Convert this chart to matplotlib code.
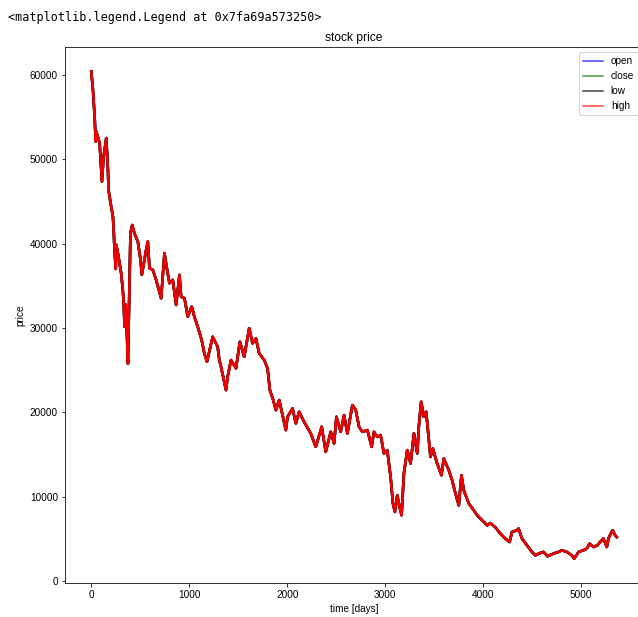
import matplotlib
matplotlib.use("Agg")
import matplotlib.pyplot as plt

plt.rcParams["font.family"] = ["Liberation Sans", "DejaVu Sans"]
plt.rcParams["font.size"] = 10

# values (day index, price)
days = [0, 17, 34, 45, 51, 85, 100, 109, 125, 153, 170, 176, 197, 221, 231, 237,
        250, 255, 278, 305, 322, 333, 339, 349, 362, 374, 400, 418, 440, 475,
        503, 516, 560, 577, 594, 628, 662, 713, 747, 774, 798, 832, 866, 900,
        917, 951, 985, 1025, 1052, 1086, 1127, 1154, 1181, 1239, 1273, 1290,
        1307, 1324, 1375, 1392, 1426, 1477, 1517, 1561, 1612, 1646, 1680, 1714,
        1765, 1799, 1823, 1857, 1884, 1918, 1986, 2003, 2054, 2088, 2121, 2172,
        2240, 2291, 2352, 2393, 2444, 2478, 2502, 2546, 2580, 2614, 2665, 2699,
        2733, 2767, 2818, 2862, 2885, 2920, 2953, 2987, 3021, 3055, 3079, 3099,
        3123, 3147, 3167, 3191, 3225, 3259, 3293, 3327, 3343, 3367, 3394, 3418,
        3439, 3462, 3486, 3530, 3574, 3598, 3649, 3683, 3717, 3751, 3778, 3802,
        3853, 3904, 3938, 3989, 4040, 4073, 4124, 4175, 4226, 4270, 4294, 4345,
        4361, 4396, 4447, 4498, 4532, 4583, 4616, 4657, 4718, 4769, 4803, 4854,
        4905, 4929, 4973, 5023, 5058, 5085, 5126, 5166, 5193, 5227, 5262, 5278,
        5302, 5322, 5346, 5363]
price = [60400, 58230, 55070, 52100, 53290, 51900, 49000, 47360, 50200, 52500,
         48750, 46370, 44800, 43200, 41040, 39260, 37000, 39850, 38460, 36490,
         34510, 32530, 30160, 32800, 30000, 25800, 41240, 42200, 41240, 40240,
         38070, 36300, 39260, 40240, 37090, 36890, 35700, 33530, 38870, 36890,
         35310, 35700, 32730, 36290, 33720, 33530, 31350, 32530, 31350, 30160,
         28580, 27000, 26010, 28970, 28190, 27790, 26210, 25420, 22650, 24230,
         26210, 25230, 28380, 26600, 29970, 28190, 28780, 27000, 26210, 25230,
         22650, 21470, 20280, 21470, 17910, 19490, 20480, 18700, 20080, 18890,
         17520, 15930, 18300, 15340, 17710, 16330, 19490, 17710, 19690, 17520,
         20870, 20300, 18300, 17710, 17910, 15930, 17710, 17110, 17320, 15150,
         15540, 12370, 9220, 8220, 10200, 8810, 7830, 12770, 15540, 13960,
         17520, 15150, 18300, 21270, 19490, 20080, 17520, 14740, 15740, 13960,
         12570, 14550, 13160, 11980, 10400, 9010, 12570, 10790, 9220, 8420,
         7830, 7230, 6640, 6900, 6400, 5660, 5060, 4660, 5850, 6050,
         6250, 5060, 4270, 3480, 3080, 3360, 3480, 2970, 3290, 3480,
         3680, 3480, 3080, 2690, 3480, 3680, 3880, 4470, 4070, 4270,
         4660, 5060, 4070, 5060, 5660, 6050, 5460, 5250]

series = ["open", "close", "low", "high"]
colors = ["blue", "green", "black", "red"]

fig = plt.figure(figsize=(638 / 72, 617 / 72), dpi=72)
ax = fig.add_axes([65 / 638, 34 / 617, 578 / 638, 536 / 617])

for name, c in zip(series, colors):
    ax.plot(days, price, color=c, label=name, linewidth=2.6, alpha=0.95)

ax.set_title("stock price", fontsize=12)
ax.set_xlabel("time [days]")
ax.set_ylabel("price")
leg = ax.legend(loc="upper right")
for line in leg.get_lines():
    line.set_linewidth(1.5)
    line.set_alpha(0.75)

fig.text(8 / 638, 1 - 17 / 617, "<matplotlib.legend.Legend at 0x7fa69a573250>",
         family="DejaVu Sans Mono", fontsize=11.7, va="center", ha="left")

fig.savefig("out.png", dpi=72)
